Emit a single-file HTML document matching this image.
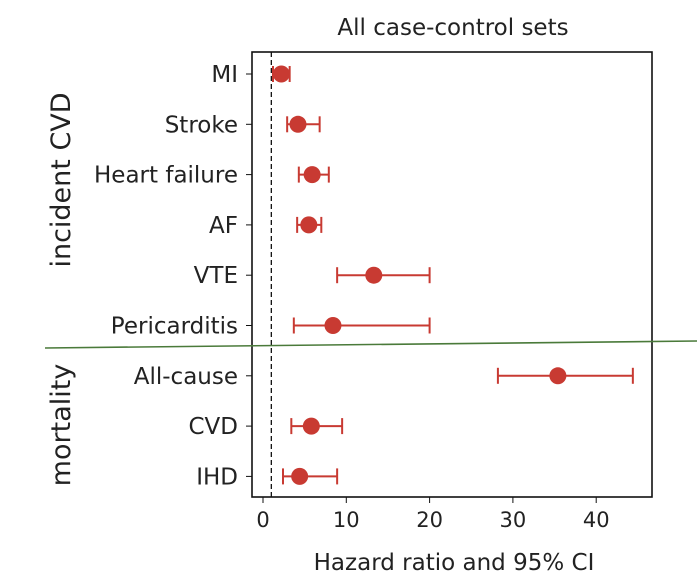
<!DOCTYPE html>
<html><head><meta charset="utf-8"><style>
body{margin:0;background:#fff;}
svg text{font-family:"DejaVu Sans","Liberation Sans",sans-serif;fill:#222;}
</style></head><body>
<svg id="chart" width="697" height="573" viewBox="0 0 697 573"></svg>
<script>
const categories=["MI","Stroke","Heart failure","AF","VTE","Pericarditis","All-cause","CVD","IHD"];
const hr=[2.2,4.2,5.9,5.5,13.3,8.4,35.4,5.8,4.4];
const ciLow=[1.2,2.9,4.3,4.1,8.9,3.7,28.2,3.4,2.4];
const ciHigh=[3.2,6.8,7.9,7.0,20,20,44.4,9.5,8.9];
const xTicks=[0,10,20,30,40];
const svg=document.getElementById('chart');
const NS='http://www.w3.org/2000/svg';
const L=252,R=652,T=52,B=497;
const x=v=>263+v*8.33;
const y=i=>74+i*50.3;
function mk(t,a,p){const e=document.createElementNS(NS,t);for(const k in a)e.setAttribute(k,a[k]);(p||svg).appendChild(e);return e;}
let e;
e=mk('rect',{x:L,y:T,width:R-L,height:B-T,fill:'none',stroke:'#111','stroke-width':1.6});


e=mk('line',{x1:x(1),x2:x(1),y1:T,y2:B,stroke:'#111','stroke-dasharray':'5,3','stroke-width':1.3});


xTicks.forEach(v=>{
 mk('line',{x1:x(v),x2:x(v),y1:B,y2:B+6,stroke:'#111'});
 e=mk('text',{x:x(v),y:B+30,'text-anchor':'middle','font-size':21});e.textContent=v;
 
 
});
categories.forEach((c,i)=>{
 mk('line',{x1:L-6,x2:L,y1:y(i),y2:y(i),stroke:'#111'});
 e=mk('text',{x:L-14,y:y(i)+8,'text-anchor':'end','font-size':23});e.textContent=c;
 
 
 const g=mk('g',{});
 
 
 mk('line',{x1:x(ciLow[i]),x2:x(ciHigh[i]),y1:y(i),y2:y(i),stroke:'#c83a32','stroke-width':2},g);
 [ciLow[i],ciHigh[i]].forEach(v=>mk('line',{x1:x(v),x2:x(v),y1:y(i)-8,y2:y(i)+8,stroke:'#c83a32','stroke-width':2},g));
 mk('circle',{cx:x(hr[i]),cy:y(i),r:8.5,fill:'#c83a32'},g);
});
e=mk('line',{x1:45,y1:348,x2:697,y2:341,stroke:'#4a7a3a','stroke-width':1.6});


e=mk('text',{x:453,y:35,'text-anchor':'middle','font-size':23});e.textContent='All case-control sets';


e=mk('text',{x:454,y:570,'text-anchor':'middle','font-size':23});e.textContent='Hazard ratio and 95% CI';


e=mk('text',{x:0,y:0,'text-anchor':'middle','font-size':27,transform:'translate(70,180) rotate(-90)'});e.textContent='incident CVD';


e=mk('text',{x:0,y:0,'text-anchor':'middle','font-size':27,transform:'translate(70,425) rotate(-90)'});e.textContent='mortality';


</script>
</body></html>
